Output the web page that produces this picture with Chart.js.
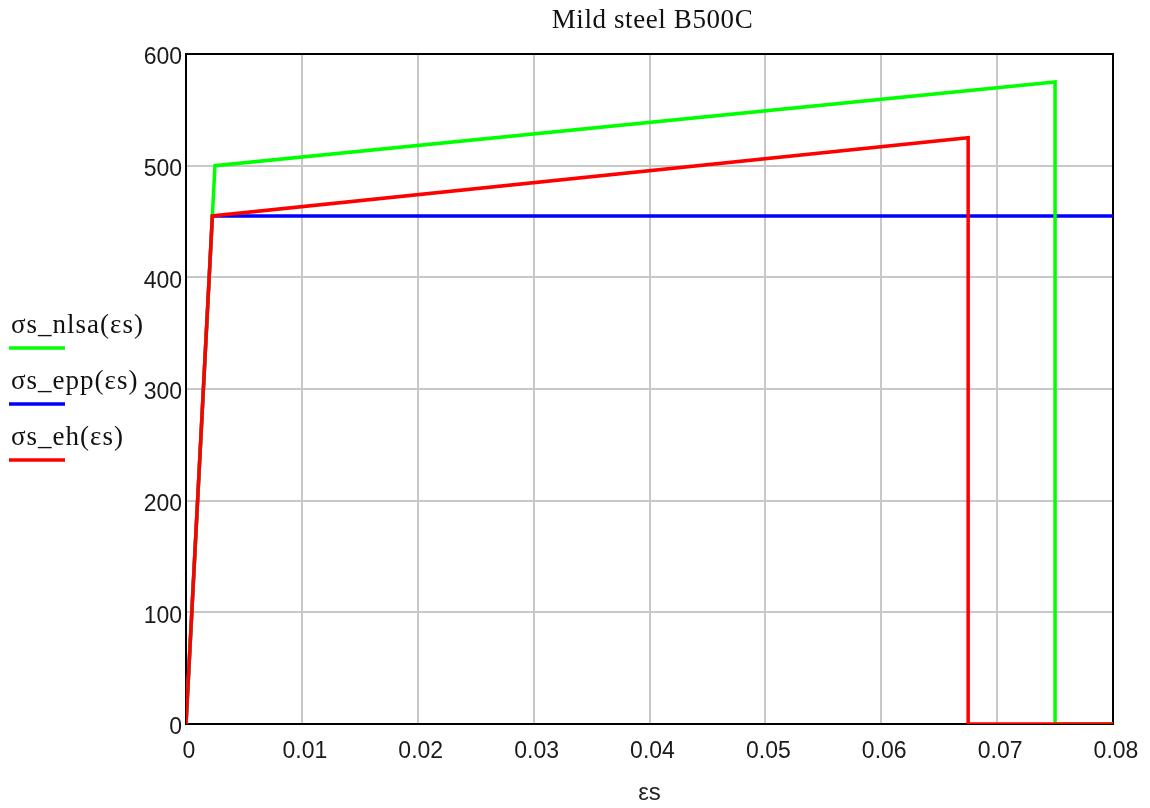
<!DOCTYPE html>
<html>
<head>
<meta charset="utf-8">
<script src="https://cdn.jsdelivr.net/npm/chart.js@4.4.0/dist/chart.umd.min.js"></script>
<style>
  body { margin: 0; background: #fff; }
  canvas { display: block; }
</style>
</head>
<body>
<canvas id="steel" width="1150" height="808"></canvas>
<script>
// stress-strain curves for B500C reinforcement (strain in -, stress in MPa)
const strainNlsa = [0, 0.0025, 0.075, 0.075, 0.08];
const stressNlsa = [0, 500, 575, 0, 0];

const strainEpp = [0, 0.002275, 0.08];
const stressEpp = [0, 455, 455];

const strainEh = [0, 0.002275, 0.0675, 0.0675, 0.08];
const stressEh = [0, 455, 525, 0, 0];

const seriesNames = ['σs_nlsa(εs)', 'σs_epp(εs)', 'σs_eh(εs)'];
const seriesColors = ['#00ff00', '#0000ff', '#ff0000'];

const strainTicks = [0, 0.01, 0.02, 0.03, 0.04, 0.05, 0.06, 0.07, 0.08];
const stressTicks = [0, 100, 200, 300, 400, 500, 600];

const chartTitle = 'Mild steel B500C';

function toPoints(xs, ys) {
  return xs.map((x, i) => ({ x: x, y: ys[i] }));
}

// frame around the plot area, under the curves
const plotFrame = {
  id: 'plotFrame',
  beforeDatasetsDraw(chart) {
    const { ctx, chartArea: a } = chart;
    ctx.save();
    ctx.strokeStyle = '#000';
    ctx.lineWidth = 2;
    ctx.strokeRect(a.left, a.top, a.right - a.left, a.bottom - a.top);
    ctx.restore();
  }
};

// title centred over the plot, legend on the left with a coloured line under each name
const sideText = {
  id: 'sideText',
  afterDraw(chart) {
    const { ctx, chartArea: a } = chart;
    ctx.save();
    ctx.fillStyle = '#111';
    ctx.textBaseline = 'alphabetic';

    ctx.font = '27px "Liberation Serif", serif';
    ctx.letterSpacing = '0.6px';
    ctx.textAlign = 'center';
    ctx.fillText(chartTitle, (a.left + a.right) / 2 + 3, 28);

    ctx.textAlign = 'left';
    ctx.letterSpacing = '1px';
    const baselines = [333, 389, 445];
    seriesNames.forEach((name, i) => {
      ctx.fillText(name, 11, baselines[i]);
      ctx.strokeStyle = seriesColors[i];
      ctx.lineWidth = 3.5;
      ctx.beginPath();
      ctx.moveTo(9, baselines[i] + 15);
      ctx.lineTo(65, baselines[i] + 15);
      ctx.stroke();
    });
    ctx.restore();
  }
};

const datasets = [
  { data: toPoints(strainNlsa, stressNlsa), order: 1 },
  { data: toPoints(strainEpp, stressEpp), order: 2 },
  { data: toPoints(strainEh, stressEh), order: 0 }
].map((d, i) => Object.assign(d, {
  label: seriesNames[i],
  borderColor: seriesColors[i],
  borderWidth: 3.5,
  pointRadius: 0,
  tension: 0,
  fill: false
}));

const tickFont = { family: '"Liberation Sans", Arial, sans-serif', size: 23 };

new Chart(document.getElementById('steel'), {
  type: 'line',
  data: { datasets: datasets },
  plugins: [plotFrame, sideText],
  options: {
    responsive: false,
    animation: false,
    devicePixelRatio: 1,
    layout: { padding: { left: 0, right: 37, top: 54, bottom: 0 } },
    plugins: {
      legend: { display: false },
      tooltip: { enabled: false },
      title: { display: false }
    },
    scales: {
      x: {
        type: 'linear',
        min: 0,
        max: 0.08,
        afterBuildTicks(scale) { scale.ticks = strainTicks.map(v => ({ value: v })); },
        afterFit(scale) { scale.height = 84; },
        ticks: {
          font: tickFont,
          color: '#1a1a1a',
          padding: 14,
          labelOffset: 3,
          maxRotation: 0,
          callback: v => String(Number(v.toFixed(2)))
        },
        grid: { color: '#c8c8c8', lineWidth: 2, drawTicks: false },
        border: { color: '#000', width: 2 },
        title: {
          display: true,
          text: 'εs',
          color: '#222',
          font: { family: '"Liberation Sans", Arial, sans-serif', size: 24 },
          padding: { top: 0, bottom: 0 }
        }
      },
      y: {
        min: 0,
        max: 600,
        afterBuildTicks(scale) { scale.ticks = stressTicks.map(v => ({ value: v })); },
        afterFit(scale) { scale.width = 186; },
        ticks: {
          font: tickFont,
          color: '#1a1a1a',
          padding: 4,
          labelOffset: 4
        },
        grid: { color: '#c8c8c8', lineWidth: 2, drawTicks: false },
        border: { color: '#000', width: 2 }
      }
    }
  }
});
</script>
</body>
</html>
